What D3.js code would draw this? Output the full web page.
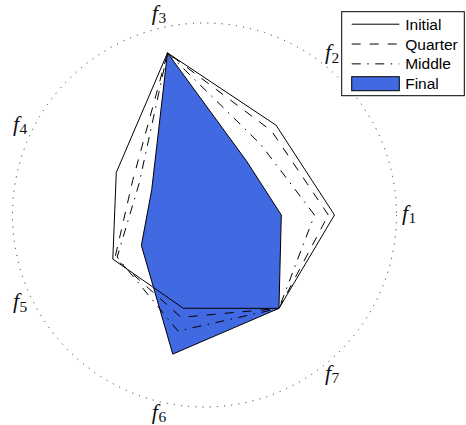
<!DOCTYPE html>
<html>
<head>
<meta charset="utf-8">
<script src="https://cdn.jsdelivr.net/npm/d3@7"></script>
<style>
  html, body { margin: 0; padding: 0; background: #fff; }
  svg { display: block; }
</style>
</head>
<body>
<svg id="chart" width="466" height="425"></svg>
<script>
// Objective indices around the radar
const axisIndices = [1, 2, 3, 4, 5, 6, 7];

// Normalised objective values per stage (outer circle = 1)
const initialValues = [0.677, 0.598, 0.866, 0.510, 0.530, 0.498, 0.622];
const quarterValues = [0.645, 0.560, 0.866, 0.415, 0.518, 0.547, 0.622];
const middleValues  = [0.573, 0.470, 0.866, 0.378, 0.505, 0.620, 0.622];
const finalValues   = [0.400, 0.355, 0.866, 0.305, 0.365, 0.743, 0.622];

const seriesNames = ["Initial", "Quarter", "Middle", "Final"];

const svg = d3.select("#chart");
const cx = 204.5, cy = 215, R = 192;
const n = axisIndices.length;

const r = d3.scaleLinear().domain([0, 1]).range([0, R]);
// f1 points east, the rest follow counter-clockwise
const angle = d3.scaleLinear().domain([0, n]).range([Math.PI / 2, Math.PI / 2 - 2 * Math.PI]);

const g = svg.append("g").attr("transform", `translate(${cx},${cy})`);

// dotted outer circle
g.append("circle")
  .attr("r", r(1))
  .attr("fill", "none")
  .attr("stroke", "#333")
  .attr("stroke-width", 1)
  .attr("stroke-dasharray", "1.1,6.1");

const radial = d3.lineRadial()
  .angle((d, i) => angle(i))
  .radius(d => r(d))
  .curve(d3.curveLinearClosed);

const styles = {
  Initial: { dash: null },
  Quarter: { dash: "9,9" },
  Middle:  { dash: "9,6.5,1.5,6.5" },
  Final:   { fill: "#4169e1" }
};

// filled final stage underneath
g.append("path")
  .attr("d", radial(finalValues))
  .attr("fill", styles.Final.fill)
  .attr("stroke", "#000")
  .attr("stroke-width", 1)
  .attr("stroke-linejoin", "miter");

// outlines of the earlier stages on top
[["Initial", initialValues], ["Quarter", quarterValues], ["Middle", middleValues]]
  .forEach(([name, vals]) => {
    g.append("path")
      .attr("d", radial(vals))
      .attr("fill", "none")
      .attr("stroke", "#000")
      .attr("stroke-width", 1)
      .attr("stroke-dasharray", styles[name].dash);
  });

// axis labels f_i
const labelR = r(1.066);
axisIndices.forEach((k, i) => {
  const a = angle(i);
  const x = labelR * Math.sin(a);
  const y = -labelR * Math.cos(a);
  const t = g.append("text")
    .attr("x", x)
    .attr("y", y + 4.5)
    .attr("text-anchor", "middle")
    .attr("font-family", "'Liberation Serif', 'DejaVu Serif', serif")
    .attr("fill", "#111");
  t.append("tspan")
    .attr("font-style", "italic")
    .attr("font-size", 22)
    .text("f");
  t.append("tspan")
    .attr("font-size", 15.5)
    .attr("dy", 3.2)
    .attr("dx", 0.5)
    .text(k);
});

// legend
const legend = svg.append("g").attr("transform", "translate(341.7,11.7)");
legend.append("rect")
  .attr("width", 122.6)
  .attr("height", 84)
  .attr("fill", "#fff")
  .attr("stroke", "#000")
  .attr("stroke-width", 1);

const rowY = d3.scalePoint().domain(seriesNames).range([12.5, 72]);
seriesNames.forEach(name => {
  const y = rowY(name);
  if (name === "Final") {
    legend.append("rect")
      .attr("x", 10).attr("y", y - 7)
      .attr("width", 47.6).attr("height", 14)
      .attr("fill", styles.Final.fill)
      .attr("stroke", "#000")
      .attr("stroke-width", 1);
  } else {
    legend.append("line")
      .attr("x1", 10).attr("x2", 57.6)
      .attr("y1", y).attr("y2", y)
      .attr("stroke", "#000")
      .attr("stroke-width", 1)
      .attr("stroke-dasharray", styles[name].dash);
  }
  legend.append("text")
    .attr("x", 63.5)
    .attr("y", y)
    .attr("dy", "0.36em")
    .attr("font-family", "'Liberation Sans', Arial, sans-serif")
    .attr("font-size", 15.5)
    .attr("fill", "#000")
    .text(name);
});
</script>
</body>
</html>
